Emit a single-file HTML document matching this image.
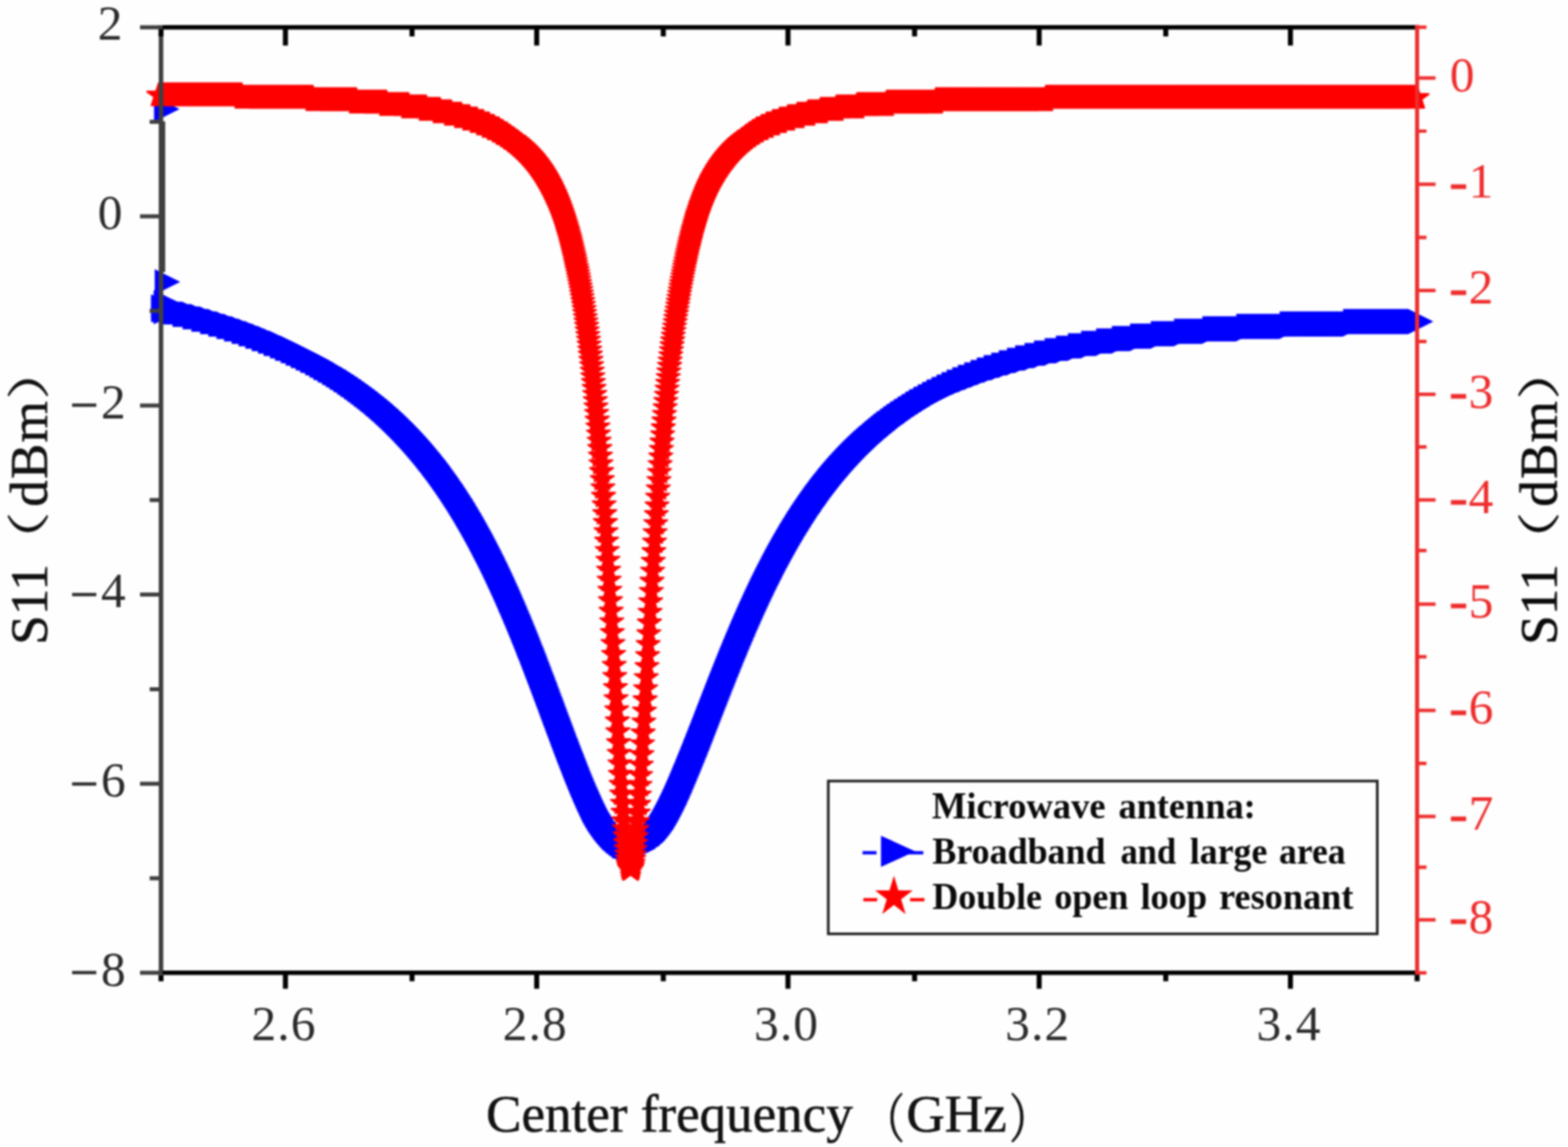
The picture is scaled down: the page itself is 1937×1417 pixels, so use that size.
<!DOCTYPE html>
<html lang="en">
<head>
<meta charset="utf-8">
<title>S11 versus center frequency</title>
<style>
html,body{margin:0;padding:0;background:#fff;}
body{width:1937px;height:1417px;overflow:hidden;}
svg{display:block;}
text{font-family:"Liberation Serif","Noto Serif CJK SC",serif;}
.cjk{font-family:"Noto Serif CJK SC","Liberation Serif",serif;}
</style>
</head>
<body>
<svg width="1937" height="1417" viewBox="0 0 1937 1417">
<defs>
<marker id="mt" markerUnits="userSpaceOnUse" markerWidth="60" markerHeight="60" viewBox="-30 -30 60 60" refX="0" refY="0"><polygon points="-11.50,-15.70 20.00,0.00 -11.50,15.70" fill="#0000ff" stroke="#0000ff" stroke-width="0" stroke-linejoin="round"/></marker>
<marker id="ms" markerUnits="userSpaceOnUse" markerWidth="60" markerHeight="60" viewBox="-30 -30 60 60" refX="0" refY="0"><polygon points="0.00,-15.20 3.41,-4.70 14.46,-4.70 5.52,1.79 8.93,12.30 0.00,5.81 -8.93,12.30 -5.52,1.79 -14.46,-4.70 -3.41,-4.70" fill="#ff0000" stroke="#ff0000" stroke-width="2.0" stroke-linejoin="round"/></marker>
<filter id="soft" x="-2%" y="-2%" width="104%" height="104%" color-interpolation-filters="sRGB"><feGaussianBlur stdDeviation="1.0"/></filter>
</defs>
<rect x="0" y="0" width="1937" height="1417" fill="#fefefe"/>
<g id="plot" filter="url(#soft)">
<polyline id="blue" fill="none" stroke="none" marker-start="url(#mt)" marker-mid="url(#mt)" marker-end="url(#mt)" points="201.8,134.8 202.6,348.2 201.3,374 198.2,382.5 201.3,385 198.2,379.2 199,382.2 199.8,382.2 200.5,382.2 201.3,382.2 202.1,382.2 202.9,382.2 203.6,382.2 204.4,382.2 205.2,382.2 206,382.2 206.7,382.2 207.5,382.2 208.3,382.2 209.1,382.2 209.8,382.2 210.6,382.2 211.4,382.2 212.2,385.2 212.9,385.2 213.7,385.2 214.5,385.2 215.3,385.2 216.1,385.2 216.8,385.2 217.6,385.2 218.4,385.2 219.2,385.2 219.9,385.2 220.7,385.2 221.5,385.2 222.3,385.2 223,385.2 223.8,385.2 224.6,388.2 225.4,388.2 226.1,388.2 226.9,388.2 227.7,388.2 228.5,388.2 229.2,388.2 230,388.2 230.8,388.2 231.6,388.2 232.4,388.2 233.1,388.2 233.9,388.2 234.7,388.2 235.5,388.2 236.2,388.2 237,391.2 237.8,391.2 238.6,391.2 239.3,391.2 240.1,391.2 240.9,391.2 241.7,391.2 242.4,391.2 243.2,391.2 244,391.2 244.8,391.2 245.5,391.2 246.3,391.2 247.1,391.2 247.9,394.2 248.7,394.2 249.4,394.2 250.2,394.2 251,394.2 251.8,394.2 252.5,394.2 253.3,394.2 254.1,394.2 254.9,394.2 255.6,394.2 256.4,394.2 257.2,394.2 258,394.2 258.7,397.2 259.5,397.2 260.3,397.2 261.1,397.2 261.8,397.2 262.6,397.2 263.4,397.2 264.2,397.2 265,397.2 265.7,397.2 266.5,397.2 267.3,397.2 268.1,397.2 268.8,400.2 269.6,400.2 270.4,400.2 271.2,400.2 271.9,400.2 272.7,400.2 273.5,400.2 274.3,400.2 275,400.2 275.8,400.2 276.6,400.2 277.4,400.2 278.1,400.2 278.9,403.2 279.7,403.2 280.5,403.2 281.3,403.2 282,403.2 282.8,403.2 283.6,403.2 284.4,403.2 285.1,403.2 285.9,403.2 286.7,403.2 287.5,403.2 288.2,406.2 289,406.2 289.8,406.2 290.6,406.2 291.3,406.2 292.1,406.2 292.9,406.2 293.7,406.2 294.4,406.2 295.2,406.2 296,406.2 296.8,406.2 297.6,409.2 298.3,409.2 299.1,409.2 299.9,409.2 300.7,409.2 301.4,409.2 302.2,409.2 303,409.2 303.8,409.2 304.5,409.2 305.3,409.2 306.1,412.2 306.9,412.2 307.6,412.2 308.4,412.2 309.2,412.2 310,412.2 310.7,412.2 311.5,412.2 312.3,412.2 313.1,412.2 313.9,412.2 314.6,415.2 315.4,415.2 316.2,415.2 317,415.2 317.7,415.2 318.5,415.2 319.3,415.2 320.1,415.2 320.8,415.2 321.6,415.2 322.4,418.2 323.2,418.2 323.9,418.2 324.7,418.2 325.5,418.2 326.3,418.2 327,418.2 327.8,418.2 328.6,418.2 329.4,418.2 330.2,421.2 330.9,421.2 331.7,421.2 332.5,421.2 333.3,421.2 334,421.2 334.8,421.2 335.6,421.2 336.4,421.2 337.1,424.2 337.9,424.2 338.7,424.2 339.5,424.2 340.2,424.2 341,424.2 341.8,424.2 342.6,424.2 343.3,424.3 344.1,424.3 344.9,427.1 345.7,427.2 346.5,427.2 347.2,427.2 348,427.2 348.8,427.2 349.6,427.3 350.3,427.3 351.1,430.1 351.9,430.1 352.7,430.1 353.4,430.2 354.2,430.2 355,430.2 355.8,430.3 356.5,430.3 357.3,430.3 358.1,433.1 358.9,433.1 359.6,433.1 360.4,433.2 361.2,433.2 362,433.3 362.8,433.3 363.5,433.4 364.3,436 365.1,436.1 365.9,436.1 366.6,436.2 367.4,436.2 368.2,436.3 369,436.3 369.7,436.4 370.5,439 371.3,439 372.1,439.1 372.8,439.2 373.6,439.2 374.4,439.3 375.2,439.4 375.9,439.4 376.7,442 377.5,442 378.3,442.1 379.1,442.2 379.8,442.3 380.6,442.3 381.4,442.4 382.2,444.9 382.9,445 383.7,445.1 384.5,445.1 385.3,445.2 386,445.3 386.8,445.4 387.6,445.5 388.4,447.9 389.1,448 389.9,448.1 390.7,448.2 391.5,448.3 392.2,448.5 393,448.6 393.8,450.9 394.6,451 395.4,451.1 396.1,451.2 396.9,451.4 397.7,451.5 398.5,453.8 399.2,453.9 400,454 400.8,454.2 401.6,454.3 402.3,454.4 403.1,454.6 403.9,456.8 404.7,456.9 405.4,457.1 406.2,457.2 407,457.4 407.8,457.5 408.6,457.7 409.3,459.8 410.1,460 410.9,460.2 411.7,460.3 412.4,460.5 413.2,460.7 414,462.8 414.8,462.9 415.5,463.1 416.3,463.3 417.1,463.5 417.9,463.7 418.6,465.7 419.4,465.9 420.2,466.1 421,466.3 421.7,466.6 422.5,466.8 423.3,468.7 424.1,468.9 424.9,469.2 425.6,469.4 426.4,469.6 427.2,469.9 428,471.7 428.7,472 429.5,472.2 430.3,472.5 431.1,472.8 431.8,474.5 432.6,474.8 433.4,475.1 434.2,475.4 434.9,475.7 435.7,475.9 436.5,477.7 437.3,478 438,478.3 438.8,478.6 439.6,478.9 440.4,480.5 441.2,480.8 441.9,481.2 442.7,481.5 443.5,481.8 444.3,483.4 445,483.8 445.8,484.1 446.6,484.5 447.4,484.8 448.1,486.4 448.9,486.7 449.7,487.1 450.5,487.5 451.2,487.9 452,489.3 452.8,489.7 453.6,490.1 454.3,490.5 455.1,491 455.9,492.4 456.7,492.8 457.5,493.2 458.2,493.7 459,494.1 459.8,495.4 460.6,495.9 461.3,496.4 462.1,496.8 462.9,498.1 463.7,498.6 464.4,499.1 465.2,499.6 466,500.1 466.8,501.3 467.5,501.8 468.3,502.4 469.1,502.9 469.9,504 470.6,504.6 471.4,505.1 472.2,505.7 473,506.3 473.8,507.4 474.5,508 475.3,508.6 476.1,509.2 476.9,510.2 477.6,510.8 478.4,511.5 479.2,512.1 480,513.1 480.7,513.7 481.5,514.4 482.3,515.1 483.1,516 483.8,516.7 484.6,517.4 485.4,518.1 486.2,518.9 486.9,519.7 487.7,520.4 488.5,521.2 489.3,522 490.1,522.7 490.8,523.5 491.6,524.3 492.4,525.1 493.2,525.9 493.9,526.7 494.7,527.5 495.5,528.3 496.3,529.1 497,529.9 497.8,530.7 498.6,531.5 499.4,532.3 500.1,533.2 500.9,534 501.7,534.8 502.5,535.7 503.2,536.5 504,537.3 504.8,538.2 505.6,539 506.4,539.9 507.1,540.8 507.9,541.6 508.7,542.5 509.5,543.4 510.2,544.3 511,545.1 511.8,546 512.6,546.9 513.3,547.8 514.1,548.7 514.9,549.6 515.7,550.5 516.4,551.4 517.2,552.3 518,553.3 518.8,554.2 519.5,555.1 520.3,556.1 521.1,557 521.9,557.9 522.7,558.9 523.4,559.8 524.2,560.8 525,561.8 525.8,562.7 526.5,563.7 527.3,564.7 528.1,565.7 528.9,566.7 529.6,567.6 530.4,568.6 531.2,569.6 532,570.6 532.7,571.7 533.5,572.7 534.3,573.7 535.1,574.7 535.8,575.8 536.6,576.8 537.4,577.8 538.2,578.9 539,579.9 539.7,581 540.5,582.1 541.3,583.1 542.1,584.2 542.8,585.3 543.6,586.4 544.4,587.5 545.2,588.6 545.9,589.7 546.7,590.8 547.5,591.9 548.3,593 549,594.1 549.8,595.2 550.6,596.4 551.4,597.5 552.1,598.7 552.9,599.8 553.7,601 554.5,602.1 555.3,603.3 556,604.5 556.8,605.7 557.6,606.9 558.4,608 559.1,609.2 559.9,610.5 560.7,611.7 561.5,612.9 562.2,614.1 563,615.3 563.8,616.6 564.6,617.8 565.3,619 566.1,620.3 566.9,621.6 567.7,622.8 568.4,624.1 569.2,625.4 570,626.7 570.8,627.9 571.6,629.2 572.3,630.5 573.1,631.9 573.9,633.2 574.7,634.5 575.4,635.8 576.2,637.2 577,638.5 577.8,639.8 578.5,641.2 579.3,642.6 580.1,643.9 580.9,645.3 581.6,646.7 582.4,648.1 583.2,649.5 584,650.9 584.7,652.3 585.5,653.7 586.3,655.1 587.1,656.5 587.9,658 588.6,659.4 589.4,660.8 590.2,662.3 591,663.8 591.7,665.2 592.5,666.7 593.3,668.2 594.1,669.7 594.8,671.2 595.6,672.7 596.4,674.2 597.2,675.7 597.9,677.2 598.7,678.7 599.5,680.3 600.3,681.8 601,683.4 601.8,684.9 602.6,686.5 603.4,688 604.2,689.6 604.9,691.2 605.7,692.8 606.5,694.4 607.3,696 608,697.6 608.8,699.2 609.6,700.9 610.4,702.5 611.1,704.1 611.9,705.8 612.7,707.4 613.5,709.1 614.2,710.8 615,712.4 615.8,714.1 616.6,715.8 617.3,717.5 618.1,719.2 618.9,720.9 619.7,722.6 620.5,724.4 621.2,726.1 622,727.8 622.8,729.6 623.6,731.3 624.3,733.1 625.1,734.8 625.9,736.6 626.7,738.4 627.4,740.2 628.2,742 629,743.8 629.8,745.6 630.5,747.4 631.3,749.2 632.1,751 632.9,752.9 633.6,754.7 634.4,756.5 635.2,758.4 636,760.2 636.8,762.1 637.5,764 638.3,765.9 639.1,767.7 639.9,769.6 640.6,771.5 641.4,773.4 642.2,775.3 643,777.2 643.7,779.2 644.5,781.1 645.3,783 646.1,785 646.8,786.9 647.6,788.8 648.4,790.8 649.2,792.8 649.9,794.7 650.7,796.7 651.5,798.7 652.3,800.6 653.1,802.6 653.8,804.6 654.6,806.6 655.4,808.6 656.2,810.6 656.9,812.6 657.7,814.6 658.5,816.7 659.3,818.7 660,820.7 660.8,822.7 661.6,824.8 662.4,826.8 663.1,828.9 663.9,830.9 664.7,832.9 665.5,835 666.2,837.1 667,839.1 667.8,841.2 668.6,843.2 669.4,845.3 670.1,847.4 670.9,849.5 671.7,851.5 672.5,853.6 673.2,855.7 674,857.8 674.8,859.9 675.6,861.9 676.3,864 677.1,866.1 677.9,868.2 678.7,870.3 679.4,872.4 680.2,874.5 681,876.6 681.8,878.7 682.5,880.7 683.3,882.8 684.1,884.9 684.9,887 685.7,889.1 686.4,891.2 687.2,893.3 688,895.4 688.8,897.4 689.5,899.5 690.3,901.6 691.1,903.7 691.9,905.8 692.6,907.8 693.4,909.9 694.2,912 695,914 695.7,916.1 696.5,918.1 697.3,920.2 698.1,922.2 698.8,924.2 699.6,926.3 700.4,928.3 701.2,930.3 702,932.3 702.7,934.3 703.5,936.3 704.3,938.3 705.1,940.3 705.8,942.3 706.6,944.3 707.4,946.2 708.2,948.2 708.9,950.1 709.7,952.1 710.5,954 711.3,955.9 712,957.8 712.8,959.7 713.6,961.6 714.4,963.5 715.1,965.4 715.9,967.2 716.7,969.1 717.5,970.9 718.3,972.7 719,974.5 719.8,976.3 720.6,978.1 721.4,979.8 722.1,981.6 722.9,983.3 723.7,985 724.5,986.7 725.2,988.4 726,990.1 726.8,991.7 727.6,993.4 728.3,995 729.1,996.6 729.9,998.2 730.7,999.7 731.4,1001.2 732.2,1002.7 733,1004.1 733.8,1005.5 734.6,1006.8 735.3,1008.1 736.1,1009.4 736.9,1010.7 737.7,1011.9 738.4,1013.1 739.2,1014.2 740,1015.4 740.8,1016.5 741.5,1017.6 742.3,1018.6 743.1,1019.7 743.9,1020.7 744.6,1021.7 745.4,1022.7 746.2,1023.7 747,1024.7 747.7,1025.7 748.5,1026.6 749.3,1027.6 750.1,1028.5 750.9,1029.4 751.6,1030.3 752.4,1031.1 753.2,1032 754,1032.8 754.7,1033.5 755.5,1034.2 756.3,1035.2 757.1,1035.8 757.8,1036.4 758.6,1036.9 759.4,1038.1 760.2,1038.7 760.9,1039.1 761.7,1039.5 762.5,1039.9 763.3,1041.4 764,1041.8 764.8,1042.1 765.6,1042.4 766.4,1042.7 767.2,1044.5 767.9,1044.8 768.7,1045 769.5,1045.2 770.3,1045.4 771,1045.4 771.8,1045.5 772.6,1048 773.4,1048.1 774.1,1048.2 774.9,1048.2 775.7,1048.2 776.5,1048.2 777.2,1048.2 778,1048.2 778.8,1048.2 779.6,1048.2 780.3,1048.2 781.1,1048.2 781.9,1048.2 782.7,1048.2 783.5,1048.2 784.2,1048.2 785,1048.2 785.8,1048.2 786.6,1048.2 787.3,1048.2 788.1,1048.2 788.9,1048.2 789.7,1048.1 790.4,1048 791.2,1045.5 792,1045.4 792.8,1045.3 793.5,1045.1 794.3,1044.8 795.1,1044.5 795.9,1042.9 796.7,1042.5 797.4,1042.1 798.2,1041.5 799,1040.5 799.8,1039.9 800.5,1039.2 801.3,1038.4 802.1,1037.6 802.9,1036.7 803.6,1035.8 804.4,1034.9 805.2,1034 806,1033 806.7,1032 807.5,1031 808.3,1030 809.1,1028.9 809.8,1027.8 810.6,1026.7 811.4,1025.5 812.2,1024.4 813,1023.2 813.7,1021.9 814.5,1020.7 815.3,1019.4 816.1,1018.1 816.8,1016.8 817.6,1015.4 818.4,1014 819.2,1012.6 819.9,1011.2 820.7,1009.8 821.5,1008.3 822.3,1006.8 823,1005.3 823.8,1003.8 824.6,1002.2 825.4,1000.6 826.1,999 826.9,997.4 827.7,995.8 828.5,994.2 829.3,992.5 830,990.8 830.8,989.1 831.6,987.4 832.4,985.7 833.1,984 833.9,982.2 834.7,980.4 835.5,978.7 836.2,976.9 837,975.1 837.8,973.3 838.6,971.4 839.3,969.6 840.1,967.8 840.9,965.9 841.7,964.1 842.4,962.2 843.2,960.3 844,958.5 844.8,956.6 845.6,954.7 846.3,952.8 847.1,950.9 847.9,949 848.7,947.1 849.4,945.2 850.2,943.3 851,941.4 851.8,939.5 852.5,937.5 853.3,935.6 854.1,933.7 854.9,931.7 855.6,929.8 856.4,927.8 857.2,925.9 858,923.9 858.7,921.9 859.5,920 860.3,918 861.1,916 861.9,914 862.6,912.1 863.4,910.1 864.2,908.1 865,906.1 865.7,904.1 866.5,902.1 867.3,900.1 868.1,898.1 868.8,896.1 869.6,894.1 870.4,892.1 871.2,890.1 871.9,888.1 872.7,886.1 873.5,884.1 874.3,882.1 875,880.1 875.8,878.1 876.6,876.1 877.4,874.1 878.2,872.1 878.9,870.2 879.7,868.2 880.5,866.2 881.3,864.2 882,862.2 882.8,860.2 883.6,858.2 884.4,856.2 885.1,854.3 885.9,852.3 886.7,850.3 887.5,848.4 888.2,846.4 889,844.4 889.8,842.5 890.6,840.5 891.3,838.6 892.1,836.6 892.9,834.7 893.7,832.7 894.5,830.8 895.2,828.9 896,826.9 896.8,825 897.6,823.1 898.3,821.2 899.1,819.3 899.9,817.3 900.7,815.4 901.4,813.6 902.2,811.7 903,809.8 903.8,807.9 904.5,806 905.3,804.1 906.1,802.3 906.9,800.4 907.6,798.6 908.4,796.7 909.2,794.9 910,793 910.8,791.2 911.5,789.4 912.3,787.5 913.1,785.7 913.9,783.9 914.6,782.1 915.4,780.3 916.2,778.5 917,776.7 917.7,775 918.5,773.2 919.3,771.4 920.1,769.7 920.8,767.9 921.6,766.2 922.4,764.4 923.2,762.7 923.9,761 924.7,759.2 925.5,757.5 926.3,755.8 927.1,754.1 927.8,752.4 928.6,750.7 929.4,749 930.2,747.4 930.9,745.7 931.7,744 932.5,742.4 933.3,740.7 934,739.1 934.8,737.4 935.6,735.8 936.4,734.2 937.1,732.6 937.9,731 938.7,729.3 939.5,727.8 940.2,726.2 941,724.6 941.8,723 942.6,721.4 943.4,719.9 944.1,718.3 944.9,716.8 945.7,715.2 946.5,713.7 947.2,712.2 948,710.6 948.8,709.1 949.6,707.6 950.3,706.1 951.1,704.6 951.9,703.1 952.7,701.6 953.4,700.2 954.2,698.7 955,697.2 955.8,695.8 956.5,694.3 957.3,692.9 958.1,691.5 958.9,690 959.7,688.6 960.4,687.2 961.2,685.8 962,684.4 962.8,683 963.5,681.6 964.3,680.2 965.1,678.8 965.9,677.5 966.6,676.1 967.4,674.7 968.2,673.4 969,672.1 969.7,670.7 970.5,669.4 971.3,668.1 972.1,666.7 972.8,665.4 973.6,664.1 974.4,662.8 975.2,661.5 976,660.2 976.7,659 977.5,657.7 978.3,656.4 979.1,655.2 979.8,653.9 980.6,652.7 981.4,651.4 982.2,650.2 982.9,649 983.7,647.7 984.5,646.5 985.3,645.3 986,644.1 986.8,642.9 987.6,641.7 988.4,640.5 989.1,639.3 989.9,638.1 990.7,637 991.5,635.8 992.3,634.7 993,633.5 993.8,632.4 994.6,631.2 995.4,630.1 996.1,628.9 996.9,627.8 997.7,626.7 998.5,625.6 999.2,624.5 1000,623.4 1000.8,622.3 1001.6,621.2 1002.3,620.1 1003.1,619 1003.9,618 1004.7,616.9 1005.4,615.8 1006.2,614.8 1007,613.7 1007.8,612.7 1008.6,611.6 1009.3,610.6 1010.1,609.6 1010.9,608.5 1011.7,607.5 1012.4,606.5 1013.2,605.5 1014,604.5 1014.8,603.5 1015.5,602.5 1016.3,601.5 1017.1,600.5 1017.9,599.6 1018.6,598.6 1019.4,597.6 1020.2,596.7 1021,595.7 1021.7,594.8 1022.5,593.8 1023.3,592.9 1024.1,591.9 1024.9,591 1025.6,590.1 1026.4,589.2 1027.2,588.2 1028,587.3 1028.7,586.4 1029.5,585.5 1030.3,584.6 1031.1,583.7 1031.8,582.8 1032.6,582 1033.4,581.1 1034.2,580.2 1034.9,579.3 1035.7,578.5 1036.5,577.6 1037.3,576.7 1038,575.9 1038.8,575 1039.6,574.2 1040.4,573.4 1041.2,572.5 1041.9,571.7 1042.7,570.9 1043.5,570 1044.3,569.2 1045,568.4 1045.8,567.6 1046.6,566.8 1047.4,566 1048.1,565.2 1048.9,564.4 1049.7,563.6 1050.5,562.8 1051.2,562.1 1052,561.3 1052.8,560.5 1053.6,559.7 1054.3,559 1055.1,558.2 1055.9,557.4 1056.7,556.7 1057.5,556 1058.2,555.3 1059,554.4 1059.8,553.7 1060.6,553 1061.3,552.4 1062.1,551.4 1062.9,550.7 1063.7,550.1 1064.4,549.5 1065.2,548.5 1066,547.8 1066.8,547.2 1067.5,546.7 1068.3,546.1 1069.1,545 1069.9,544.4 1070.6,543.9 1071.4,543.3 1072.2,542.2 1073,541.6 1073.8,541.1 1074.5,540.6 1075.3,540.1 1076.1,538.9 1076.9,538.4 1077.6,537.9 1078.4,537.4 1079.2,536.1 1080,535.6 1080.7,535.2 1081.5,534.7 1082.3,534.3 1083.1,532.9 1083.8,532.5 1084.6,532.1 1085.4,531.6 1086.2,531.2 1086.9,529.8 1087.7,529.4 1088.5,529 1089.3,528.6 1090.1,527.1 1090.8,526.7 1091.6,526.4 1092.4,526 1093.2,525.6 1093.9,524.1 1094.7,523.7 1095.5,523.4 1096.3,523 1097,522.7 1097.8,522.4 1098.6,520.8 1099.4,520.4 1100.1,520.1 1100.9,519.8 1101.7,519.5 1102.5,517.8 1103.2,517.5 1104,517.2 1104.8,517 1105.6,516.7 1106.4,514.9 1107.1,514.6 1107.9,514.4 1108.7,514.1 1109.5,513.8 1110.2,513.6 1111,511.8 1111.8,511.5 1112.6,511.3 1113.3,511 1114.1,510.8 1114.9,510.6 1115.7,508.7 1116.4,508.4 1117.2,508.2 1118,508 1118.8,507.8 1119.5,507.6 1120.3,505.6 1121.1,505.4 1121.9,505.2 1122.7,505 1123.4,504.8 1124.2,504.6 1125,502.6 1125.8,502.4 1126.5,502.2 1127.3,502.1 1128.1,501.9 1128.9,501.7 1129.6,499.6 1130.4,499.4 1131.2,499.3 1132,499.1 1132.7,499 1133.5,498.8 1134.3,496.6 1135.1,496.5 1135.8,496.4 1136.6,496.2 1137.4,496.1 1138.2,495.9 1139,495.8 1139.7,493.6 1140.5,493.4 1141.3,493.3 1142.1,493.2 1142.8,493.1 1143.6,492.9 1144.4,492.8 1145.2,490.5 1145.9,490.4 1146.7,490.3 1147.5,490.2 1148.3,490.1 1149,490 1149.8,489.9 1150.6,487.5 1151.4,487.4 1152.1,487.3 1152.9,487.2 1153.7,487.1 1154.5,487 1155.3,487 1156,484.5 1156.8,484.4 1157.6,484.3 1158.4,484.2 1159.1,484.2 1159.9,484.1 1160.7,484 1161.5,484 1162.2,481.4 1163,481.3 1163.8,481.3 1164.6,481.2 1165.3,481.1 1166.1,481.1 1166.9,481 1167.7,481 1168.4,478.4 1169.2,478.3 1170,478.3 1170.8,478.2 1171.6,478.2 1172.3,478.1 1173.1,478.1 1173.9,478 1174.7,475.3 1175.4,475.3 1176.2,475.3 1177,475.2 1177.8,475.2 1178.5,475.1 1179.3,475.1 1180.1,475.1 1180.9,472.3 1181.6,472.3 1182.4,472.3 1183.2,472.2 1184,472.2 1184.8,472.2 1185.5,472.2 1186.3,472.1 1187.1,472.1 1187.9,469.3 1188.6,469.2 1189.4,469.2 1190.2,469.2 1191,469.2 1191.7,469.2 1192.5,469.2 1193.3,469.2 1194.1,469.2 1194.8,466.2 1195.6,466.2 1196.4,466.2 1197.2,466.2 1197.9,466.2 1198.7,466.2 1199.5,466.2 1200.3,466.2 1201.1,466.2 1201.8,466.2 1202.6,463.2 1203.4,463.2 1204.2,463.2 1204.9,463.2 1205.7,463.2 1206.5,463.2 1207.3,463.2 1208,463.2 1208.8,463.2 1209.6,463.2 1210.4,460.2 1211.1,460.2 1211.9,460.2 1212.7,460.2 1213.5,460.2 1214.2,460.2 1215,460.2 1215.8,460.2 1216.6,460.2 1217.4,460.2 1218.1,457.2 1218.9,457.2 1219.7,457.2 1220.5,457.2 1221.2,457.2 1222,457.2 1222.8,457.2 1223.6,457.2 1224.3,457.2 1225.1,457.2 1225.9,457.2 1226.7,454.2 1227.4,454.2 1228.2,454.2 1229,454.2 1229.8,454.2 1230.5,454.2 1231.3,454.2 1232.1,454.2 1232.9,454.2 1233.7,454.2 1234.4,454.2 1235.2,454.2 1236,451.2 1236.8,451.2 1237.5,451.2 1238.3,451.2 1239.1,451.2 1239.9,451.2 1240.6,451.2 1241.4,451.2 1242.2,451.2 1243,451.2 1243.7,451.2 1244.5,451.2 1245.3,448.2 1246.1,448.2 1246.8,448.2 1247.6,448.2 1248.4,448.2 1249.2,448.2 1250,448.2 1250.7,448.2 1251.5,448.2 1252.3,448.2 1253.1,448.2 1253.8,448.2 1254.6,448.2 1255.4,445.2 1256.2,445.2 1256.9,445.2 1257.7,445.2 1258.5,445.2 1259.3,445.2 1260,445.2 1260.8,445.2 1261.6,445.2 1262.4,445.2 1263.1,445.2 1263.9,445.2 1264.7,445.2 1265.5,442.2 1266.3,442.2 1267,442.2 1267.8,442.2 1268.6,442.2 1269.4,442.2 1270.1,442.2 1270.9,442.2 1271.7,442.2 1272.5,442.2 1273.2,442.2 1274,442.2 1274.8,442.2 1275.6,442.2 1276.3,442.2 1277.1,439.2 1277.9,439.2 1278.7,439.2 1279.4,439.2 1280.2,439.2 1281,439.2 1281.8,439.2 1282.6,439.2 1283.3,439.2 1284.1,439.2 1284.9,439.2 1285.7,439.2 1286.4,439.2 1287.2,439.2 1288,439.2 1288.8,436.2 1289.5,436.2 1290.3,436.2 1291.1,436.2 1291.9,436.2 1292.6,436.2 1293.4,436.2 1294.2,436.2 1295,436.2 1295.7,436.2 1296.5,436.2 1297.3,436.2 1298.1,436.2 1298.9,436.2 1299.6,436.2 1300.4,436.2 1301.2,436.2 1302,433.2 1302.7,433.2 1303.5,433.2 1304.3,433.2 1305.1,433.2 1305.8,433.2 1306.6,433.2 1307.4,433.2 1308.2,433.2 1308.9,433.2 1309.7,433.2 1310.5,433.2 1311.3,433.2 1312,433.2 1312.8,433.2 1313.6,433.2 1314.4,433.2 1315.2,433.2 1315.9,430.2 1316.7,430.2 1317.5,430.2 1318.3,430.2 1319,430.2 1319.8,430.2 1320.6,430.2 1321.4,430.2 1322.1,430.2 1322.9,430.2 1323.7,430.2 1324.5,430.2 1325.2,430.2 1326,430.2 1326.8,430.2 1327.6,430.2 1328.3,430.2 1329.1,430.2 1329.9,430.2 1330.7,427.2 1331.5,427.2 1332.2,427.2 1333,427.2 1333.8,427.2 1334.6,427.2 1335.3,427.2 1336.1,427.2 1336.9,427.2 1337.7,427.2 1338.4,427.2 1339.2,427.2 1340,427.2 1340.8,427.2 1341.5,427.2 1342.3,427.2 1343.1,427.2 1343.9,427.2 1344.6,427.2 1345.4,427.2 1346.2,427.2 1347,424.2 1347.8,424.2 1348.5,424.2 1349.3,424.2 1350.1,424.2 1350.9,424.2 1351.6,424.2 1352.4,424.2 1353.2,424.2 1354,424.2 1354.7,424.2 1355.5,424.2 1356.3,424.2 1357.1,424.2 1357.8,424.2 1358.6,424.2 1359.4,424.2 1360.2,424.2 1360.9,424.2 1361.7,424.2 1362.5,424.2 1363.3,424.2 1364.1,424.2 1364.8,424.2 1365.6,421.2 1366.4,421.2 1367.2,421.2 1367.9,421.2 1368.7,421.2 1369.5,421.2 1370.3,421.2 1371,421.2 1371.8,421.2 1372.6,421.2 1373.4,421.2 1374.1,421.2 1374.9,421.2 1375.7,421.2 1376.5,421.2 1377.2,421.2 1378,421.2 1378.8,421.2 1379.6,421.2 1380.4,421.2 1381.1,421.2 1381.9,421.2 1382.7,421.2 1383.5,421.2 1384.2,421.2 1385,418.2 1385.8,418.2 1386.6,418.2 1387.3,418.2 1388.1,418.2 1388.9,418.2 1389.7,418.2 1390.4,418.2 1391.2,418.2 1392,418.2 1392.8,418.2 1393.5,418.2 1394.3,418.2 1395.1,418.2 1395.9,418.2 1396.7,418.2 1397.4,418.2 1398.2,418.2 1399,418.2 1399.8,418.2 1400.5,418.2 1401.3,418.2 1402.1,418.2 1402.9,418.2 1403.6,418.2 1404.4,418.2 1405.2,418.2 1406,418.2 1406.7,418.2 1407.5,415.2 1408.3,415.2 1409.1,415.2 1409.8,415.2 1410.6,415.2 1411.4,415.2 1412.2,415.2 1413,415.2 1413.7,415.2 1414.5,415.2 1415.3,415.2 1416.1,415.2 1416.8,415.2 1417.6,415.2 1418.4,415.2 1419.2,415.2 1419.9,415.2 1420.7,415.2 1421.5,415.2 1422.3,415.2 1423,415.2 1423.8,415.2 1424.6,415.2 1425.4,415.2 1426.1,415.2 1426.9,415.2 1427.7,415.2 1428.5,415.2 1429.3,415.2 1430,415.2 1430.8,415.2 1431.6,415.2 1432.4,415.2 1433.1,412.2 1433.9,412.2 1434.7,412.2 1435.5,412.2 1436.2,412.2 1437,412.2 1437.8,412.2 1438.6,412.2 1439.3,412.2 1440.1,412.2 1440.9,412.2 1441.7,412.2 1442.4,412.2 1443.2,412.2 1444,412.2 1444.8,412.2 1445.6,412.2 1446.3,412.2 1447.1,412.2 1447.9,412.2 1448.7,412.2 1449.4,412.2 1450.2,412.2 1451,412.2 1451.8,412.2 1452.5,412.2 1453.3,412.2 1454.1,412.2 1454.9,412.2 1455.6,412.2 1456.4,412.2 1457.2,412.2 1458,412.2 1458.7,412.2 1459.5,412.2 1460.3,412.2 1461.1,412.2 1461.9,409.2 1462.6,409.2 1463.4,409.2 1464.2,409.2 1465,409.2 1465.7,409.2 1466.5,409.2 1467.3,409.2 1468.1,409.2 1468.8,409.2 1469.6,409.2 1470.4,409.2 1471.2,409.2 1471.9,409.2 1472.7,409.2 1473.5,409.2 1474.3,409.2 1475,409.2 1475.8,409.2 1476.6,409.2 1477.4,409.2 1478.2,409.2 1478.9,409.2 1479.7,409.2 1480.5,409.2 1481.3,409.2 1482,409.2 1482.8,409.2 1483.6,409.2 1484.4,409.2 1485.1,409.2 1485.9,409.2 1486.7,409.2 1487.5,409.2 1488.2,409.2 1489,409.2 1489.8,409.2 1490.6,409.2 1491.3,409.2 1492.1,409.2 1492.9,409.2 1493.7,409.2 1494.5,409.2 1495.2,409.2 1496,409.2 1496.8,406.2 1497.6,406.2 1498.3,406.2 1499.1,406.2 1499.9,406.2 1500.7,406.2 1501.4,406.2 1502.2,406.2 1503,406.2 1503.8,406.2 1504.5,406.2 1505.3,406.2 1506.1,406.2 1506.9,406.2 1507.6,406.2 1508.4,406.2 1509.2,406.2 1510,406.2 1510.8,406.2 1511.5,406.2 1512.3,406.2 1513.1,406.2 1513.9,406.2 1514.6,406.2 1515.4,406.2 1516.2,406.2 1517,406.2 1517.7,406.2 1518.5,406.2 1519.3,406.2 1520.1,406.2 1520.8,406.2 1521.6,406.2 1522.4,406.2 1523.2,406.2 1523.9,406.2 1524.7,406.2 1525.5,406.2 1526.3,406.2 1527.1,406.2 1527.8,406.2 1528.6,406.2 1529.4,406.2 1530.2,406.2 1530.9,406.2 1531.7,406.2 1532.5,406.2 1533.3,406.2 1534,406.2 1534.8,406.2 1535.6,406.2 1536.4,406.2 1537.1,406.2 1537.9,406.2 1538.7,403.2 1539.5,403.2 1540.2,403.2 1541,403.2 1541.8,403.2 1542.6,403.2 1543.4,403.2 1544.1,403.2 1544.9,403.2 1545.7,403.2 1546.5,403.2 1547.2,403.2 1548,403.2 1548.8,403.2 1549.6,403.2 1550.3,403.2 1551.1,403.2 1551.9,403.2 1552.7,403.2 1553.4,403.2 1554.2,403.2 1555,403.2 1555.8,403.2 1556.6,403.2 1557.3,403.2 1558.1,403.2 1558.9,403.2 1559.7,403.2 1560.4,403.2 1561.2,403.2 1562,403.2 1562.8,403.2 1563.5,403.2 1564.3,403.2 1565.1,403.2 1565.9,403.2 1566.6,403.2 1567.4,403.2 1568.2,403.2 1569,403.2 1569.7,403.2 1570.5,403.2 1571.3,403.2 1572.1,403.2 1572.9,403.2 1573.6,403.2 1574.4,403.2 1575.2,403.2 1576,403.2 1576.7,403.2 1577.5,403.2 1578.3,403.2 1579.1,403.2 1579.8,403.2 1580.6,403.2 1581.4,403.2 1582.2,403.2 1582.9,403.2 1583.7,403.2 1584.5,403.2 1585.3,403.2 1586,403.2 1586.8,403.2 1587.6,403.2 1588.4,403.2 1589.2,403.2 1589.9,403.2 1590.7,403.2 1591.5,403.2 1592.3,400.2 1593,400.2 1593.8,400.2 1594.6,400.2 1595.4,400.2 1596.1,400.2 1596.9,400.2 1597.7,400.2 1598.5,400.2 1599.2,400.2 1600,400.2 1600.8,400.2 1601.6,400.2 1602.3,400.2 1603.1,400.2 1603.9,400.2 1604.7,400.2 1605.5,400.2 1606.2,400.2 1607,400.2 1607.8,400.2 1608.6,400.2 1609.3,400.2 1610.1,400.2 1610.9,400.2 1611.7,400.2 1612.4,400.2 1613.2,400.2 1614,400.2 1614.8,400.2 1615.5,400.2 1616.3,400.2 1617.1,400.2 1617.9,400.2 1618.6,400.2 1619.4,400.2 1620.2,400.2 1621,400.2 1621.8,400.2 1622.5,400.2 1623.3,400.2 1624.1,400.2 1624.9,400.2 1625.6,400.2 1626.4,400.2 1627.2,400.2 1628,400.2 1628.7,400.2 1629.5,400.2 1630.3,400.2 1631.1,400.2 1631.8,400.2 1632.6,400.2 1633.4,400.2 1634.2,400.2 1634.9,400.2 1635.7,400.2 1636.5,400.2 1637.3,400.2 1638.1,400.2 1638.8,400.2 1639.6,400.2 1640.4,400.2 1641.2,400.2 1641.9,400.2 1642.7,400.2 1643.5,400.2 1644.3,400.2 1645,400.2 1645.8,400.2 1646.6,400.2 1647.4,400.2 1648.1,400.2 1648.9,400.2 1649.7,400.2 1650.5,400.2 1651.2,400.2 1652,400.2 1652.8,400.2 1653.6,400.2 1654.4,400.2 1655.1,400.2 1655.9,400.2 1656.7,400.2 1657.5,400.2 1658.2,400.2 1659,400.2 1659.8,400.2 1660.6,400.2 1661.3,400.2 1662.1,400.2 1662.9,400.2 1663.7,400.2 1664.4,400.2 1665.2,400.2 1666,400.2 1666.8,400.2 1667.5,400.2 1668.3,400.2 1669.1,400.2 1669.9,400.2 1670.7,397.2 1671.4,397.2 1672.2,397.2 1673,397.2 1673.8,397.2 1674.5,397.2 1675.3,397.2 1676.1,397.2 1676.9,397.2 1677.6,397.2 1678.4,397.2 1679.2,397.2 1680,397.2 1680.7,397.2 1681.5,397.2 1682.3,397.2 1683.1,397.2 1683.8,397.2 1684.6,397.2 1685.4,397.2 1686.2,397.2 1687,397.2 1687.7,397.2 1688.5,397.2 1689.3,397.2 1690.1,397.2 1690.8,397.2 1691.6,397.2 1692.4,397.2 1693.2,397.2 1693.9,397.2 1694.7,397.2 1695.5,397.2 1696.3,397.2 1697,397.2 1697.8,397.2 1698.6,397.2 1699.4,397.2 1700.1,397.2 1700.9,397.2 1701.7,397.2 1702.5,397.2 1703.3,397.2 1704,397.2 1704.8,397.2 1705.6,397.2 1706.4,397.2 1707.1,397.2 1707.9,397.2 1708.7,397.2 1709.5,397.2 1710.2,397.2 1711,397.2 1711.8,397.2 1712.6,397.2 1713.3,397.2 1714.1,397.2 1714.9,397.2 1715.7,397.2 1716.4,397.2 1717.2,397.2 1718,397.2 1718.8,397.2 1719.6,397.2 1720.3,397.2 1721.1,397.2 1721.9,397.2 1722.7,397.2 1723.4,397.2 1724.2,397.2 1725,397.2 1725.8,397.2 1726.5,397.2 1727.3,397.2 1728.1,397.2 1728.9,397.2 1729.6,397.2 1730.4,397.2 1731.2,397.2 1732,397.2 1732.7,397.2 1733.5,397.2 1734.3,397.2 1735.1,397.2 1735.9,397.2 1736.6,397.2 1737.4,397.2 1738.2,397.2 1739,397.2 1739.7,397.2 1740.5,397.2 1741.3,397.2 1742.1,397.2 1742.8,397.2 1743.6,397.2 1744.4,397.2 1745.2,397.2 1745.9,397.2 1746.7,397.2 1747.5,397.2 1748.3,397.2 1749,397.2 1749.8,397.2 1750.6,397.2"/>
<polyline id="red" fill="none" stroke="none" marker-start="url(#ms)" marker-mid="url(#ms)" marker-end="url(#ms)" points="196,117.9 196.8,117.9 197.6,117.9 198.3,117.9 199.1,117.9 199.9,117.9 200.7,117.9 201.4,117.9 202.2,117.9 203,117.9 203.8,117.9 204.6,117.9 205.3,117.9 206.1,117.9 206.9,117.9 207.7,117.9 208.4,117.9 209.2,117.9 210,117.9 210.8,117.9 211.5,117.9 212.3,117.9 213.1,117.9 213.9,117.9 214.7,117.9 215.4,117.9 216.2,117.9 217,117.9 217.8,117.9 218.5,117.9 219.3,117.9 220.1,117.9 220.9,117.9 221.7,117.9 222.4,117.9 223.2,117.9 224,117.9 224.8,117.9 225.5,117.9 226.3,117.9 227.1,117.9 227.9,117.9 228.6,117.9 229.4,117.9 230.2,117.9 231,117.9 231.8,117.9 232.5,117.9 233.3,117.9 234.1,117.9 234.9,117.9 235.6,117.9 236.4,117.9 237.2,117.9 238,117.9 238.8,117.9 239.5,117.9 240.3,117.9 241.1,117.9 241.9,117.9 242.6,117.9 243.4,117.9 244.2,117.9 245,117.9 245.7,117.9 246.5,117.9 247.3,117.9 248.1,117.9 248.9,117.9 249.6,117.9 250.4,117.9 251.2,117.9 252,117.9 252.7,117.9 253.5,117.9 254.3,117.9 255.1,117.9 255.9,117.9 256.6,117.9 257.4,117.9 258.2,117.9 259,117.9 259.7,117.9 260.5,117.9 261.3,117.9 262.1,117.9 262.8,117.9 263.6,117.9 264.4,117.9 265.2,117.9 266,117.9 266.7,117.9 267.5,117.9 268.3,117.9 269.1,117.9 269.8,117.9 270.6,117.9 271.4,117.9 272.2,117.9 273,117.9 273.7,117.9 274.5,117.9 275.3,117.9 276.1,117.9 276.8,117.9 277.6,117.9 278.4,117.9 279.2,117.9 279.9,117.9 280.7,117.9 281.5,117.9 282.3,117.9 283.1,117.9 283.8,117.9 284.6,117.9 285.4,117.9 286.2,117.9 286.9,117.9 287.7,117.9 288.5,117.9 289.3,117.9 290.1,117.9 290.8,117.9 291.6,117.9 292.4,117.9 293.2,117.9 293.9,117.9 294.7,117.9 295.5,117.9 296.3,117.9 297,117.9 297.8,117.9 298.6,117.9 299.4,120.9 300.2,120.9 300.9,120.9 301.7,120.9 302.5,120.9 303.3,120.9 304,120.9 304.8,120.9 305.6,120.9 306.4,120.9 307.2,120.9 307.9,120.9 308.7,120.9 309.5,120.9 310.3,120.9 311,120.9 311.8,120.9 312.6,120.9 313.4,120.9 314.1,120.9 314.9,120.9 315.7,120.9 316.5,120.9 317.3,120.9 318,120.9 318.8,120.9 319.6,120.9 320.4,120.9 321.1,120.9 321.9,120.9 322.7,120.9 323.5,120.9 324.3,120.9 325,120.9 325.8,120.9 326.6,120.9 327.4,120.9 328.1,120.9 328.9,120.9 329.7,120.9 330.5,120.9 331.3,120.9 332,120.9 332.8,120.9 333.6,120.9 334.4,120.9 335.1,120.9 335.9,120.9 336.7,120.9 337.5,120.9 338.2,120.9 339,120.9 339.8,120.9 340.6,120.9 341.4,120.9 342.1,120.9 342.9,120.9 343.7,120.9 344.5,120.9 345.2,120.9 346,120.9 346.8,120.9 347.6,120.9 348.4,120.9 349.1,120.9 349.9,120.9 350.7,120.9 351.5,120.9 352.2,120.9 353,120.9 353.8,120.9 354.6,120.9 355.3,120.9 356.1,120.9 356.9,120.9 357.7,120.9 358.5,120.9 359.2,120.9 360,120.9 360.8,120.9 361.6,120.9 362.3,120.9 363.1,120.9 363.9,120.9 364.7,120.9 365.5,120.9 366.2,120.9 367,120.9 367.8,120.9 368.6,120.9 369.3,120.9 370.1,120.9 370.9,120.9 371.7,120.9 372.4,120.9 373.2,120.9 374,120.9 374.8,120.9 375.6,120.9 376.3,120.9 377.1,120.9 377.9,120.9 378.7,120.9 379.4,120.9 380.2,120.9 381,120.9 381.8,120.9 382.6,120.9 383.3,120.9 384.1,120.9 384.9,120.9 385.7,120.9 386.4,120.9 387.2,123.9 388,123.9 388.8,123.9 389.5,123.9 390.3,123.9 391.1,123.9 391.9,123.9 392.7,123.9 393.4,123.9 394.2,123.9 395,123.9 395.8,123.9 396.5,123.9 397.3,123.9 398.1,123.9 398.9,123.9 399.7,123.9 400.4,123.9 401.2,123.9 402,123.9 402.8,123.9 403.5,123.9 404.3,123.9 405.1,123.9 405.9,123.9 406.6,123.9 407.4,123.9 408.2,123.9 409,123.9 409.8,123.9 410.5,123.9 411.3,123.9 412.1,123.9 412.9,123.9 413.6,123.9 414.4,123.9 415.2,123.9 416,123.9 416.8,123.9 417.5,123.9 418.3,123.9 419.1,123.9 419.9,123.9 420.6,123.9 421.4,123.9 422.2,123.9 423,123.9 423.7,123.9 424.5,123.9 425.3,123.9 426.1,123.9 426.9,123.9 427.6,123.9 428.4,123.9 429.2,123.9 430,123.9 430.7,123.9 431.5,123.9 432.3,123.9 433.1,123.9 433.9,123.9 434.6,123.9 435.4,123.9 436.2,123.9 437,123.9 437.7,123.9 438.5,123.9 439.3,123.9 440.1,123.9 440.8,126.9 441.6,126.9 442.4,126.9 443.2,126.9 444,126.9 444.7,126.9 445.5,126.9 446.3,126.9 447.1,126.9 447.8,126.9 448.6,126.9 449.4,126.9 450.2,126.9 451,126.9 451.7,126.9 452.5,126.9 453.3,126.9 454.1,126.9 454.8,126.9 455.6,126.9 456.4,126.9 457.2,126.9 458,126.9 458.7,126.9 459.5,126.9 460.3,126.9 461.1,126.9 461.8,126.9 462.6,126.9 463.4,126.9 464.2,126.9 464.9,126.9 465.7,126.9 466.5,126.9 467.3,126.9 468.1,126.9 468.8,126.9 469.6,126.9 470.4,126.9 471.2,126.9 471.9,126.9 472.7,126.9 473.5,126.9 474.3,126.9 475.1,126.9 475.8,126.9 476.6,126.9 477.4,126.9 478.2,129.9 478.9,129.9 479.7,129.9 480.5,129.9 481.3,129.9 482,129.9 482.8,129.9 483.6,129.9 484.4,129.9 485.2,129.9 485.9,129.9 486.7,129.9 487.5,129.9 488.3,129.9 489,129.9 489.8,129.9 490.6,129.9 491.4,129.9 492.2,129.9 492.9,129.9 493.7,129.9 494.5,129.9 495.3,129.9 496,129.9 496.8,129.9 497.6,129.9 498.4,129.9 499.1,129.9 499.9,129.9 500.7,129.9 501.5,129.9 502.3,129.9 503,129.9 503.8,129.9 504.6,129.9 505.4,132.9 506.1,132.9 506.9,132.9 507.7,132.9 508.5,132.9 509.3,132.9 510,132.9 510.8,132.9 511.6,132.9 512.4,132.9 513.1,132.9 513.9,132.9 514.7,132.9 515.5,132.9 516.2,132.9 517,132.9 517.8,132.9 518.6,132.9 519.4,132.9 520.1,132.9 520.9,132.9 521.7,132.9 522.5,132.9 523.2,132.9 524,132.9 524.8,132.9 525.6,132.9 526.4,132.9 527.1,135.9 527.9,135.9 528.7,135.9 529.5,135.9 530.2,135.9 531,135.9 531.8,135.9 532.6,135.9 533.3,135.9 534.1,135.9 534.9,135.9 535.7,135.9 536.5,135.9 537.2,135.9 538,135.9 538.8,135.9 539.6,135.9 540.3,135.9 541.1,135.9 541.9,135.9 542.7,135.9 543.5,135.9 544.2,138.9 545,138.9 545.8,138.9 546.6,138.9 547.3,138.9 548.1,138.9 548.9,138.9 549.7,138.9 550.4,138.9 551.2,138.9 552,138.9 552.8,138.9 553.6,138.9 554.3,138.9 555.1,138.9 555.9,138.9 556.7,138.9 557.4,138.9 558.2,141.9 559,141.9 559.8,141.9 560.6,141.9 561.3,141.9 562.1,141.9 562.9,141.9 563.7,141.9 564.4,141.9 565.2,141.9 566,141.9 566.8,141.9 567.5,141.9 568.3,141.9 569.1,141.9 569.9,141.9 570.7,144.9 571.4,144.9 572.2,144.9 573,144.9 573.8,144.9 574.5,144.9 575.3,144.9 576.1,144.9 576.9,144.9 577.7,144.9 578.4,144.9 579.2,144.9 580,144.9 580.8,147.9 581.5,147.9 582.3,147.9 583.1,147.9 583.9,147.9 584.6,147.9 585.4,147.9 586.2,147.9 587,147.9 587.8,147.9 588.5,147.9 589.3,147.9 590.1,150.9 590.9,150.9 591.6,150.9 592.4,150.9 593.2,150.9 594,150.9 594.8,150.9 595.5,150.9 596.3,150.9 597.1,150.9 597.9,153.9 598.6,153.9 599.4,153.9 600.2,153.9 601,153.9 601.8,153.9 602.5,153.9 603.3,154 604.1,154 604.9,156.8 605.6,156.8 606.4,156.8 607.2,156.9 608,156.9 608.7,157 609.5,157 610.3,157.1 611.1,159.7 611.9,159.7 612.6,159.8 613.4,159.9 614.2,159.9 615,160 615.7,160.1 616.5,160.2 617.3,162.6 618.1,162.7 618.9,162.8 619.6,162.9 620.4,163.1 621.2,163.2 622,165.4 622.7,165.6 623.5,165.7 624.3,165.9 625.1,166.1 625.8,166.3 626.6,166.5 627.4,168.4 628.2,168.7 629,168.9 629.7,169.1 630.5,169.4 631.3,171.2 632.1,171.4 632.8,171.7 633.6,172 634.4,172.4 635.2,172.8 636,174.3 636.7,174.7 637.5,175.1 638.3,175.5 639.1,175.9 639.8,177.3 640.6,177.7 641.4,178.2 642.2,178.8 642.9,179.9 643.7,180.5 644.5,181 645.3,181.7 646.1,182.7 646.8,183.3 647.6,184 648.4,184.7 649.2,185.5 649.9,186.3 650.7,187.1 651.5,187.9 652.3,188.7 653.1,189.6 653.8,190.4 654.6,191.3 655.4,192.1 656.2,193 656.9,193.9 657.7,194.8 658.5,195.8 659.3,196.7 660,197.7 660.8,198.7 661.6,199.7 662.4,200.7 663.2,201.7 663.9,202.8 664.7,203.9 665.5,204.9 666.3,206.1 667,207.2 667.8,208.3 668.6,209.5 669.4,210.7 670.2,211.9 670.9,213.1 671.7,214.4 672.5,215.7 673.3,217 674,218.3 674.8,219.7 675.6,221 676.4,222.4 677.1,223.9 677.9,225.3 678.7,226.8 679.5,228.3 680.3,229.9 681,231.5 681.8,233.1 682.6,234.7 683.4,236.4 684.1,238.1 684.9,239.8 685.7,241.6 686.5,243.4 687.3,245.2 688,247.1 688.8,249 689.6,251 690.4,253 691.1,255 691.9,257.1 692.7,259.2 693.5,261.4 694.2,263.6 695,265.9 695.8,268.2 696.6,270.5 697.4,273 698.1,275.4 698.9,277.9 699.7,280.5 700.5,283.1 701.2,285.8 702,288.6 702.8,291.4 703.6,294.3 704.4,297.2 705.1,300.2 705.9,303.3 706.7,306.4 707.5,309.6 708.2,312.9 709,316.3 709.8,319.7 710.6,323.3 711.3,326.9 712.1,330.6 712.9,334.3 713.7,338.2 714.5,342.2 715.2,346.2 716,350.4 716.8,354.6 717.6,359 718.3,363.5 719.1,368 719.9,372.7 720.7,377.5 721.5,382.4 722.2,387.5 723,392.6 723.8,397.9 724.6,403.3 725.3,408.9 726.1,414.6 726.9,420.4 727.7,426.4 728.5,432.6 729.2,438.8 730,445.3 730.8,451.9 731.6,458.7 732.3,465.6 733.1,472.7 733.9,480 734.7,487.5 735.4,495.1 736.2,503 737,511 737.8,519.3 738.6,527.7 739.3,536.4 740.1,545.2 740.9,554.3 741.7,563.6 742.4,573.1 743.2,582.8 744,592.7 744.8,602.9 745.6,613.3 746.3,623.9 747.1,634.8 747.9,645.8 748.7,657.1 749.4,668.7 750.2,680.4 751,692.4 751.8,704.6 752.5,716.9 753.3,729.5 754.1,742.3 754.9,755.3 755.7,768.4 756.4,781.7 757.2,795.1 758,808.6 758.8,822.2 759.5,835.9 760.3,849.6 761.1,863.4 761.9,877.1 762.7,890.8 763.4,904.3 764.2,917.8 765,931 765.8,944 766.5,956.8 767.3,969.2 768.1,981.1 768.9,992.7 769.6,1003.7 770.4,1014.1 771.2,1023.9 772,1033 772.8,1041.3 773.5,1048.8 774.3,1055.5 775.1,1061.2 775.9,1065.9 776.6,1069.7 777.4,1072.4 778.2,1074.1 779,1074.9 779.8,1074.2 780.5,1072.6 781.3,1070 782.1,1066.4 782.9,1061.7 783.6,1056.1 784.4,1049.6 785.2,1042.2 786,1033.9 786.7,1024.9 787.5,1015.2 788.3,1004.8 789.1,993.9 789.9,982.4 790.6,970.4 791.4,958.1 792.2,945.4 793,932.4 793.7,919.2 794.5,905.8 795.3,892.2 796.1,878.6 796.9,864.8 797.6,851.1 798.4,837.4 799.2,823.7 800,810.1 800.7,796.5 801.5,783.1 802.3,769.8 803.1,756.7 803.8,743.7 804.6,730.9 805.4,718.3 806.2,705.9 807,693.7 807.7,681.7 808.5,670 809.3,658.4 810.1,647.1 810.8,636 811.6,625.2 812.4,614.5 813.2,604.1 814,593.9 814.7,584 815.5,574.2 816.3,564.7 817.1,555.4 817.8,546.3 818.6,537.4 819.4,528.8 820.2,520.3 820.9,512.1 821.7,504 822.5,496.2 823.3,488.5 824.1,481 824.8,473.7 825.6,466.6 826.4,459.6 827.2,452.8 827.9,446.2 828.7,439.7 829.5,433.4 830.3,427.3 831.1,421.3 831.8,415.5 832.6,409.7 833.4,404.2 834.2,398.7 834.9,393.4 835.7,388.3 836.5,383.2 837.3,378.2 838,373.4 838.8,368.6 839.6,364 840.4,359.4 841.2,355 841.9,350.6 842.7,346.4 843.5,342.2 844.3,338.1 845,334.1 845.8,330.2 846.6,326.4 847.4,322.6 848.2,319 848.9,315.4 849.7,311.9 850.5,308.5 851.3,305.1 852,301.9 852.8,298.7 853.6,295.6 854.4,292.5 855.2,289.6 855.9,286.6 856.7,283.8 857.5,281 858.3,278.2 859,275.6 859.8,272.9 860.6,270.3 861.4,267.8 862.1,265.3 862.9,262.9 863.7,260.5 864.5,258.1 865.3,255.9 866,253.6 866.8,251.4 867.6,249.2 868.4,247.1 869.1,245.1 869.9,243 870.7,241.1 871.5,239.1 872.3,237.2 873,235.4 873.8,233.6 874.6,231.8 875.4,230.1 876.1,228.4 876.9,226.7 877.7,225.1 878.5,223.5 879.2,222 880,220.5 880.8,219.1 881.6,217.6 882.4,216.2 883.1,214.9 883.9,213.5 884.7,212.2 885.5,210.9 886.2,209.6 887,208.3 887.8,207.1 888.6,205.9 889.4,204.7 890.1,203.5 890.9,202.4 891.7,201.3 892.5,200.2 893.2,199.1 894,198 894.8,196.9 895.6,195.9 896.3,194.9 897.1,193.9 897.9,192.9 898.7,192 899.5,191 900.2,190.1 901,189.2 901.8,188.3 902.6,187.4 903.3,186.5 904.1,185.6 904.9,184.8 905.7,184 906.5,183.1 907.2,182.3 908,181.6 908.8,180.8 909.6,180 910.3,179.2 911.1,178.5 911.9,177.8 912.7,177.2 913.4,176.1 914.2,175.5 915,175 915.8,174.4 916.6,173.9 917.3,172.7 918.1,172.2 918.9,171.8 919.7,171.3 920.4,171 921.2,169.5 922,169.1 922.8,168.8 923.6,168.5 924.3,168.2 925.1,166.4 925.9,166.2 926.7,165.9 927.4,165.7 928.2,165.5 929,165.3 929.8,163.3 930.5,163.1 931.3,162.9 932.1,162.8 932.9,162.7 933.7,162.6 934.4,160.2 935.2,160.1 936,160 936.8,159.9 937.5,159.9 938.3,159.8 939.1,159.7 939.9,159.7 940.7,157 941.4,157 942.2,156.9 943,156.9 943.8,156.9 944.5,156.9 945.3,156.9 946.1,156.9 946.9,153.9 947.6,153.9 948.4,153.9 949.2,153.9 950,153.9 950.8,153.9 951.5,153.9 952.3,153.9 953.1,153.9 953.9,153.9 954.6,150.9 955.4,150.9 956.2,150.9 957,150.9 957.8,150.9 958.5,150.9 959.3,150.9 960.1,150.9 960.9,150.9 961.6,150.9 962.4,150.9 963.2,147.9 964,147.9 964.7,147.9 965.5,147.9 966.3,147.9 967.1,147.9 967.9,147.9 968.6,147.9 969.4,147.9 970.2,147.9 971,147.9 971.7,147.9 972.5,147.9 973.3,144.9 974.1,144.9 974.9,144.9 975.6,144.9 976.4,144.9 977.2,144.9 978,144.9 978.7,144.9 979.5,144.9 980.3,144.9 981.1,144.9 981.9,144.9 982.6,144.9 983.4,144.9 984.2,144.9 985,141.9 985.7,141.9 986.5,141.9 987.3,141.9 988.1,141.9 988.8,141.9 989.6,141.9 990.4,141.9 991.2,141.9 992,141.9 992.7,141.9 993.5,141.9 994.3,141.9 995.1,141.9 995.8,141.9 996.6,141.9 997.4,141.9 998.2,138.9 999,138.9 999.7,138.9 1000.5,138.9 1001.3,138.9 1002.1,138.9 1002.8,138.9 1003.6,138.9 1004.4,138.9 1005.2,138.9 1005.9,138.9 1006.7,138.9 1007.5,138.9 1008.3,138.9 1009.1,138.9 1009.8,138.9 1010.6,138.9 1011.4,138.9 1012.2,138.9 1012.9,138.9 1013.7,135.9 1014.5,135.9 1015.3,135.9 1016.1,135.9 1016.8,135.9 1017.6,135.9 1018.4,135.9 1019.2,135.9 1019.9,135.9 1020.7,135.9 1021.5,135.9 1022.3,135.9 1023,135.9 1023.8,135.9 1024.6,135.9 1025.4,135.9 1026.2,135.9 1026.9,135.9 1027.7,135.9 1028.5,135.9 1029.3,135.9 1030,135.9 1030.8,135.9 1031.6,135.9 1032.4,135.9 1033.2,132.9 1033.9,132.9 1034.7,132.9 1035.5,132.9 1036.3,132.9 1037,132.9 1037.8,132.9 1038.6,132.9 1039.4,132.9 1040.1,132.9 1040.9,132.9 1041.7,132.9 1042.5,132.9 1043.3,132.9 1044,132.9 1044.8,132.9 1045.6,132.9 1046.4,132.9 1047.1,132.9 1047.9,132.9 1048.7,132.9 1049.5,132.9 1050.3,132.9 1051,132.9 1051.8,132.9 1052.6,132.9 1053.4,132.9 1054.1,132.9 1054.9,132.9 1055.7,132.9 1056.5,132.9 1057.2,132.9 1058,132.9 1058.8,129.9 1059.6,129.9 1060.4,129.9 1061.1,129.9 1061.9,129.9 1062.7,129.9 1063.5,129.9 1064.2,129.9 1065,129.9 1065.8,129.9 1066.6,129.9 1067.4,129.9 1068.1,129.9 1068.9,129.9 1069.7,129.9 1070.5,129.9 1071.2,129.9 1072,129.9 1072.8,129.9 1073.6,129.9 1074.3,129.9 1075.1,129.9 1075.9,129.9 1076.7,129.9 1077.5,129.9 1078.2,129.9 1079,129.9 1079.8,129.9 1080.6,129.9 1081.3,129.9 1082.1,129.9 1082.9,129.9 1083.7,129.9 1084.5,129.9 1085.2,129.9 1086,129.9 1086.8,129.9 1087.6,129.9 1088.3,129.9 1089.1,129.9 1089.9,129.9 1090.7,129.9 1091.4,129.9 1092.2,129.9 1093,129.9 1093.8,129.9 1094.6,129.9 1095.3,126.9 1096.1,126.9 1096.9,126.9 1097.7,126.9 1098.4,126.9 1099.2,126.9 1100,126.9 1100.8,126.9 1101.6,126.9 1102.3,126.9 1103.1,126.9 1103.9,126.9 1104.7,126.9 1105.4,126.9 1106.2,126.9 1107,126.9 1107.8,126.9 1108.6,126.9 1109.3,126.9 1110.1,126.9 1110.9,126.9 1111.7,126.9 1112.4,126.9 1113.2,126.9 1114,126.9 1114.8,126.9 1115.5,126.9 1116.3,126.9 1117.1,126.9 1117.9,126.9 1118.7,126.9 1119.4,126.9 1120.2,126.9 1121,126.9 1121.8,126.9 1122.5,126.9 1123.3,126.9 1124.1,126.9 1124.9,126.9 1125.7,126.9 1126.4,126.9 1127.2,126.9 1128,126.9 1128.8,126.9 1129.5,126.9 1130.3,126.9 1131.1,126.9 1131.9,126.9 1132.6,126.9 1133.4,126.9 1134.2,126.9 1135,126.9 1135.8,126.9 1136.5,126.9 1137.3,126.9 1138.1,126.9 1138.9,126.9 1139.6,126.9 1140.4,126.9 1141.2,126.9 1142,126.9 1142.8,126.9 1143.5,126.9 1144.3,126.9 1145.1,126.9 1145.9,126.9 1146.6,126.9 1147.4,126.9 1148.2,126.9 1149,126.9 1149.7,126.9 1150.5,126.9 1151.3,126.9 1152.1,126.9 1152.9,126.9 1153.6,126.9 1154.4,126.9 1155.2,126.9 1156,123.9 1156.7,123.9 1157.5,123.9 1158.3,123.9 1159.1,123.9 1159.9,123.9 1160.6,123.9 1161.4,123.9 1162.2,123.9 1163,123.9 1163.7,123.9 1164.5,123.9 1165.3,123.9 1166.1,123.9 1166.8,123.9 1167.6,123.9 1168.4,123.9 1169.2,123.9 1170,123.9 1170.7,123.9 1171.5,123.9 1172.3,123.9 1173.1,123.9 1173.8,123.9 1174.6,123.9 1175.4,123.9 1176.2,123.9 1177,123.9 1177.7,123.9 1178.5,123.9 1179.3,123.9 1180.1,123.9 1180.8,123.9 1181.6,123.9 1182.4,123.9 1183.2,123.9 1183.9,123.9 1184.7,123.9 1185.5,123.9 1186.3,123.9 1187.1,123.9 1187.8,123.9 1188.6,123.9 1189.4,123.9 1190.2,123.9 1190.9,123.9 1191.7,123.9 1192.5,123.9 1193.3,123.9 1194.1,123.9 1194.8,123.9 1195.6,123.9 1196.4,123.9 1197.2,123.9 1197.9,123.9 1198.7,123.9 1199.5,123.9 1200.3,123.9 1201,123.9 1201.8,123.9 1202.6,123.9 1203.4,123.9 1204.2,123.9 1204.9,123.9 1205.7,123.9 1206.5,123.9 1207.3,123.9 1208,123.9 1208.8,123.9 1209.6,123.9 1210.4,123.9 1211.2,123.9 1211.9,123.9 1212.7,123.9 1213.5,123.9 1214.3,123.9 1215,123.9 1215.8,123.9 1216.6,123.9 1217.4,123.9 1218.1,123.9 1218.9,123.9 1219.7,123.9 1220.5,123.9 1221.3,123.9 1222,123.9 1222.8,123.9 1223.6,123.9 1224.4,123.9 1225.1,123.9 1225.9,123.9 1226.7,123.9 1227.5,123.9 1228.3,123.9 1229,123.9 1229.8,123.9 1230.6,123.9 1231.4,123.9 1232.1,123.9 1232.9,123.9 1233.7,123.9 1234.5,123.9 1235.3,123.9 1236,123.9 1236.8,123.9 1237.6,123.9 1238.4,123.9 1239.1,123.9 1239.9,123.9 1240.7,123.9 1241.5,123.9 1242.2,123.9 1243,123.9 1243.8,123.9 1244.6,123.9 1245.4,123.9 1246.1,123.9 1246.9,123.9 1247.7,123.9 1248.5,123.9 1249.2,123.9 1250,123.9 1250.8,123.9 1251.6,123.9 1252.4,123.9 1253.1,123.9 1253.9,123.9 1254.7,123.9 1255.5,123.9 1256.2,123.9 1257,123.9 1257.8,123.9 1258.6,123.9 1259.3,123.9 1260.1,123.9 1260.9,123.9 1261.7,123.9 1262.5,123.9 1263.2,123.9 1264,123.9 1264.8,123.9 1265.6,123.9 1266.3,123.9 1267.1,123.9 1267.9,123.9 1268.7,123.9 1269.5,123.9 1270.2,123.9 1271,123.9 1271.8,123.9 1272.6,123.9 1273.3,123.9 1274.1,123.9 1274.9,123.9 1275.7,123.9 1276.4,123.9 1277.2,123.9 1278,123.9 1278.8,123.9 1279.6,123.9 1280.3,123.9 1281.1,123.9 1281.9,123.9 1282.7,123.9 1283.4,123.9 1284.2,123.9 1285,123.9 1285.8,123.9 1286.6,123.9 1287.3,123.9 1288.1,123.9 1288.9,123.9 1289.7,123.9 1290.4,123.9 1291.2,123.9 1292,120.9 1292.8,120.9 1293.5,120.9 1294.3,120.9 1295.1,120.9 1295.9,120.9 1296.7,120.9 1297.4,120.9 1298.2,120.9 1299,120.9 1299.8,120.9 1300.5,120.9 1301.3,120.9 1302.1,120.9 1302.9,120.9 1303.7,120.9 1304.4,120.9 1305.2,120.9 1306,120.9 1306.8,120.9 1307.5,120.9 1308.3,120.9 1309.1,120.9 1309.9,120.9 1310.6,120.9 1311.4,120.9 1312.2,120.9 1313,120.9 1313.8,120.9 1314.5,120.9 1315.3,120.9 1316.1,120.9 1316.9,120.9 1317.6,120.9 1318.4,120.9 1319.2,120.9 1320,120.9 1320.8,120.9 1321.5,120.9 1322.3,120.9 1323.1,120.9 1323.9,120.9 1324.6,120.9 1325.4,120.9 1326.2,120.9 1327,120.9 1327.7,120.9 1328.5,120.9 1329.3,120.9 1330.1,120.9 1330.9,120.9 1331.6,120.9 1332.4,120.9 1333.2,120.9 1334,120.9 1334.7,120.9 1335.5,120.9 1336.3,120.9 1337.1,120.9 1337.9,120.9 1338.6,120.9 1339.4,120.9 1340.2,120.9 1341,120.9 1341.7,120.9 1342.5,120.9 1343.3,120.9 1344.1,120.9 1344.8,120.9 1345.6,120.9 1346.4,120.9 1347.2,120.9 1348,120.9 1348.7,120.9 1349.5,120.9 1350.3,120.9 1351.1,120.9 1351.8,120.9 1352.6,120.9 1353.4,120.9 1354.2,120.9 1355,120.9 1355.7,120.9 1356.5,120.9 1357.3,120.9 1358.1,120.9 1358.8,120.9 1359.6,120.9 1360.4,120.9 1361.2,120.9 1362,120.9 1362.7,120.9 1363.5,120.9 1364.3,120.9 1365.1,120.9 1365.8,120.9 1366.6,120.9 1367.4,120.9 1368.2,120.9 1368.9,120.9 1369.7,120.9 1370.5,120.9 1371.3,120.9 1372.1,120.9 1372.8,120.9 1373.6,120.9 1374.4,120.9 1375.2,120.9 1375.9,120.9 1376.7,120.9 1377.5,120.9 1378.3,120.9 1379.1,120.9 1379.8,120.9 1380.6,120.9 1381.4,120.9 1382.2,120.9 1382.9,120.9 1383.7,120.9 1384.5,120.9 1385.3,120.9 1386,120.9 1386.8,120.9 1387.6,120.9 1388.4,120.9 1389.2,120.9 1389.9,120.9 1390.7,120.9 1391.5,120.9 1392.3,120.9 1393,120.9 1393.8,120.9 1394.6,120.9 1395.4,120.9 1396.2,120.9 1396.9,120.9 1397.7,120.9 1398.5,120.9 1399.3,120.9 1400,120.9 1400.8,120.9 1401.6,120.9 1402.4,120.9 1403.1,120.9 1403.9,120.9 1404.7,120.9 1405.5,120.9 1406.3,120.9 1407,120.9 1407.8,120.9 1408.6,120.9 1409.4,120.9 1410.1,120.9 1410.9,120.9 1411.7,120.9 1412.5,120.9 1413.3,120.9 1414,120.9 1414.8,120.9 1415.6,120.9 1416.4,120.9 1417.1,120.9 1417.9,120.9 1418.7,120.9 1419.5,120.9 1420.2,120.9 1421,120.9 1421.8,120.9 1422.6,120.9 1423.4,120.9 1424.1,120.9 1424.9,120.9 1425.7,120.9 1426.5,120.9 1427.2,120.9 1428,120.9 1428.8,120.9 1429.6,120.9 1430.4,120.9 1431.1,120.9 1431.9,120.9 1432.7,120.9 1433.5,120.9 1434.2,120.9 1435,120.9 1435.8,120.9 1436.6,120.9 1437.3,120.9 1438.1,120.9 1438.9,120.9 1439.7,120.9 1440.5,120.9 1441.2,120.9 1442,120.9 1442.8,120.9 1443.6,120.9 1444.3,120.9 1445.1,120.9 1445.9,120.9 1446.7,120.9 1447.5,120.9 1448.2,120.9 1449,120.9 1449.8,120.9 1450.6,120.9 1451.3,120.9 1452.1,120.9 1452.9,120.9 1453.7,120.9 1454.4,120.9 1455.2,120.9 1456,120.9 1456.8,120.9 1457.6,120.9 1458.3,120.9 1459.1,120.9 1459.9,120.9 1460.7,120.9 1461.4,120.9 1462.2,120.9 1463,120.9 1463.8,120.9 1464.6,120.9 1465.3,120.9 1466.1,120.9 1466.9,120.9 1467.7,120.9 1468.4,120.9 1469.2,120.9 1470,120.9 1470.8,120.9 1471.5,120.9 1472.3,120.9 1473.1,120.9 1473.9,120.9 1474.7,120.9 1475.4,120.9 1476.2,120.9 1477,120.9 1477.8,120.9 1478.5,120.9 1479.3,120.9 1480.1,120.9 1480.9,120.9 1481.7,120.9 1482.4,120.9 1483.2,120.9 1484,120.9 1484.8,120.9 1485.5,120.9 1486.3,120.9 1487.1,120.9 1487.9,120.9 1488.6,120.9 1489.4,120.9 1490.2,120.9 1491,120.9 1491.8,120.9 1492.5,120.9 1493.3,120.9 1494.1,120.9 1494.9,120.9 1495.6,120.9 1496.4,120.9 1497.2,120.9 1498,120.9 1498.8,120.9 1499.5,120.9 1500.3,120.9 1501.1,120.9 1501.9,120.9 1502.6,120.9 1503.4,120.9 1504.2,120.9 1505,120.9 1505.8,120.9 1506.5,120.9 1507.3,120.9 1508.1,120.9 1508.9,120.9 1509.6,120.9 1510.4,120.9 1511.2,120.9 1512,120.9 1512.7,120.9 1513.5,120.9 1514.3,120.9 1515.1,120.9 1515.9,120.9 1516.6,120.9 1517.4,120.9 1518.2,120.9 1519,120.9 1519.7,120.9 1520.5,120.9 1521.3,120.9 1522.1,120.9 1522.9,120.9 1523.6,120.9 1524.4,120.9 1525.2,120.9 1526,120.9 1526.7,120.9 1527.5,120.9 1528.3,120.9 1529.1,120.9 1529.8,120.9 1530.6,120.9 1531.4,120.9 1532.2,120.9 1533,120.9 1533.7,120.9 1534.5,120.9 1535.3,120.9 1536.1,120.9 1536.8,120.9 1537.6,120.9 1538.4,120.9 1539.2,120.9 1540,120.9 1540.7,120.9 1541.5,120.9 1542.3,120.9 1543.1,120.9 1543.8,120.9 1544.6,120.9 1545.4,120.9 1546.2,120.9 1546.9,120.9 1547.7,120.9 1548.5,120.9 1549.3,120.9 1550.1,120.9 1550.8,120.9 1551.6,120.9 1552.4,120.9 1553.2,120.9 1553.9,120.9 1554.7,120.9 1555.5,120.9 1556.3,120.9 1557.1,120.9 1557.8,120.9 1558.6,120.9 1559.4,120.9 1560.2,120.9 1560.9,120.9 1561.7,120.9 1562.5,120.9 1563.3,120.9 1564,120.9 1564.8,120.9 1565.6,120.9 1566.4,120.9 1567.2,120.9 1567.9,120.9 1568.7,120.9 1569.5,120.9 1570.3,120.9 1571,120.9 1571.8,120.9 1572.6,120.9 1573.4,120.9 1574.2,120.9 1574.9,120.9 1575.7,120.9 1576.5,120.9 1577.3,120.9 1578,120.9 1578.8,120.9 1579.6,120.9 1580.4,120.9 1581.1,120.9 1581.9,120.9 1582.7,120.9 1583.5,120.9 1584.3,120.9 1585,120.9 1585.8,120.9 1586.6,120.9 1587.4,120.9 1588.1,120.9 1588.9,120.9 1589.7,120.9 1590.5,120.9 1591.3,120.9 1592,120.9 1592.8,120.9 1593.6,120.9 1594.4,120.9 1595.1,120.9 1595.9,120.9 1596.7,120.9 1597.5,120.9 1598.2,120.9 1599,120.9 1599.8,120.9 1600.6,120.9 1601.4,120.9 1602.1,120.9 1602.9,120.9 1603.7,120.9 1604.5,120.9 1605.2,120.9 1606,120.9 1606.8,120.9 1607.6,120.9 1608.4,120.9 1609.1,120.9 1609.9,120.9 1610.7,120.9 1611.5,120.9 1612.2,120.9 1613,120.9 1613.8,120.9 1614.6,120.9 1615.3,120.9 1616.1,120.9 1616.9,120.9 1617.7,120.9 1618.5,120.9 1619.2,120.9 1620,120.9 1620.8,120.9 1621.6,120.9 1622.3,120.9 1623.1,120.9 1623.9,120.9 1624.7,120.9 1625.5,120.9 1626.2,120.9 1627,120.9 1627.8,120.9 1628.6,120.9 1629.3,120.9 1630.1,120.9 1630.9,120.9 1631.7,120.9 1632.5,120.9 1633.2,120.9 1634,120.9 1634.8,120.9 1635.6,120.9 1636.3,120.9 1637.1,120.9 1637.9,120.9 1638.7,120.9 1639.4,120.9 1640.2,120.9 1641,120.9 1641.8,120.9 1642.6,120.9 1643.3,120.9 1644.1,120.9 1644.9,120.9 1645.7,120.9 1646.4,120.9 1647.2,120.9 1648,120.9 1648.8,120.9 1649.6,120.9 1650.3,120.9 1651.1,120.9 1651.9,120.9 1652.7,120.9 1653.4,120.9 1654.2,120.9 1655,120.9 1655.8,120.9 1656.5,120.9 1657.3,120.9 1658.1,120.9 1658.9,120.9 1659.7,120.9 1660.4,120.9 1661.2,120.9 1662,120.9 1662.8,120.9 1663.5,120.9 1664.3,120.9 1665.1,120.9 1665.9,120.9 1666.7,120.9 1667.4,120.9 1668.2,120.9 1669,120.9 1669.8,120.9 1670.5,120.9 1671.3,120.9 1672.1,120.9 1672.9,120.9 1673.6,120.9 1674.4,120.9 1675.2,120.9 1676,120.9 1676.8,120.9 1677.5,120.9 1678.3,120.9 1679.1,120.9 1679.9,120.9 1680.6,120.9 1681.4,120.9 1682.2,120.9 1683,120.9 1683.8,120.9 1684.5,120.9 1685.3,120.9 1686.1,120.9 1686.9,120.9 1687.6,120.9 1688.4,120.9 1689.2,120.9 1690,120.9 1690.7,120.9 1691.5,120.9 1692.3,120.9 1693.1,120.9 1693.9,120.9 1694.6,120.9 1695.4,120.9 1696.2,120.9 1697,120.9 1697.7,120.9 1698.5,120.9 1699.3,120.9 1700.1,120.9 1700.9,120.9 1701.6,120.9 1702.4,120.9 1703.2,120.9 1704,120.9 1704.7,120.9 1705.5,120.9 1706.3,120.9 1707.1,120.9 1707.8,120.9 1708.6,120.9 1709.4,120.9 1710.2,120.9 1711,120.9 1711.7,120.9 1712.5,120.9 1713.3,120.9 1714.1,120.9 1714.8,120.9 1715.6,120.9 1716.4,120.9 1717.2,120.9 1718,120.9 1718.7,120.9 1719.5,120.9 1720.3,120.9 1721.1,120.9 1721.8,120.9 1722.6,120.9 1723.4,120.9 1724.2,120.9 1724.9,120.9 1725.7,120.9 1726.5,120.9 1727.3,120.9 1728.1,120.9 1728.8,120.9 1729.6,120.9 1730.4,120.9 1731.2,120.9 1731.9,120.9 1732.7,120.9 1733.5,120.9 1734.3,120.9 1735.1,120.9 1735.8,120.9 1736.6,120.9 1737.4,120.9 1738.2,120.9 1738.9,120.9 1739.7,120.9 1740.5,120.9 1741.3,120.9 1742,120.9 1742.8,120.9 1743.6,120.9 1744.4,120.9 1745.2,120.9 1745.9,120.9 1746.7,120.9 1747.5,120.9 1748.3,120.9 1749,120.9 1749.8,120.9 1750.6,120.9"/>
<g stroke-linecap="butt" fill="none">
<path stroke="#3f3f3f" stroke-width="3.4" d="M202.4,150.0V336.0"/>
<path stroke="#3f3f3f" stroke-width="5.6" d="M198.9,31.2V1204.3"/>
<path stroke="#3f3f3f" stroke-width="5.0" d="M198.9,33.7h-25.9M198.9,150.5h-14.0M198.9,267.3h-25.9M198.9,384.1h-14.0M198.9,500.9h-25.9M198.9,617.8h-14.0M198.9,734.6h-25.9M198.9,851.4h-14.0M198.9,968.2h-25.9M198.9,1085.0h-14.0M198.9,1201.8h-25.9"/>
<path stroke="#000" stroke-width="5.6" d="M200.9,33.7H1748.4M200.9,1201.8H1748.4"/>
<path stroke="#000" stroke-width="6.2" d="M198.9,36.3v8.8M198.9,1204.4v7.8M352.6,33.7v22.6M352.6,1201.8v19.8M509.0,33.7v11.4M509.0,1201.8v10.4M663.0,33.7v22.6M663.0,1201.8v19.8M819.4,33.7v11.4M819.4,1201.8v10.4M973.4,33.7v22.6M973.4,1201.8v19.8M1129.8,33.7v11.4M1129.8,1201.8v10.4M1283.7,33.7v22.6M1283.7,1201.8v19.8M1440.1,33.7v11.4M1440.1,1201.8v10.4M1594.1,33.7v22.6M1594.1,1201.8v19.8M1750.6,1201.8v10.4"/>
<path stroke="#ee2c2c" stroke-width="5.0" d="M1750.6,30.7V1204.3"/>
<path stroke="#ee2c2c" stroke-width="4.2" d="M1750.6,33.7h11.6M1750.6,96.3h22.8M1750.6,162.0h11.6M1750.6,227.6h22.8M1750.6,293.3h11.6M1750.6,358.8h22.8M1750.6,421.9h11.6M1750.6,487.1h22.8M1750.6,552.1h11.6M1750.6,617.6h22.8M1750.6,680.2h11.6M1750.6,746.4h22.8M1750.6,811.4h11.6M1750.6,877.6h22.8M1750.6,943.1h11.6M1750.6,1008.6h22.8M1750.6,1071.4h11.6M1750.6,1136.4h22.8M1750.6,1201.8h11.6"/>
</g>
<g font-size="61" fill="#2a2a2a">
<text x="136.0" y="49.4" text-anchor="middle">2</text>
<text x="136.0" y="283.0" text-anchor="middle">0</text>
<text y="516.6"><tspan x="86.5" dy="4.7" textLength="35.0" lengthAdjust="spacingAndGlyphs" stroke="#2a2a2a" stroke-width="0.90">−</tspan><tspan x="140.0" dy="-4.7" text-anchor="middle">2</tspan></text>
<text y="750.3"><tspan x="86.5" dy="4.7" textLength="35.0" lengthAdjust="spacingAndGlyphs" stroke="#2a2a2a" stroke-width="0.90">−</tspan><tspan x="140.0" dy="-4.7" text-anchor="middle">4</tspan></text>
<text y="983.9"><tspan x="86.5" dy="4.7" textLength="35.0" lengthAdjust="spacingAndGlyphs" stroke="#2a2a2a" stroke-width="0.90">−</tspan><tspan x="140.0" dy="-4.7" text-anchor="middle">6</tspan></text>
<text y="1217.5"><tspan x="86.5" dy="4.7" textLength="35.0" lengthAdjust="spacingAndGlyphs" stroke="#2a2a2a" stroke-width="0.90">−</tspan><tspan x="140.0" dy="-4.7" text-anchor="middle">8</tspan></text>
<text x="350.2" y="1285.0" text-anchor="middle" textLength="79.0" lengthAdjust="spacing">2.6</text>
<text x="660.6" y="1285.0" text-anchor="middle" textLength="79.0" lengthAdjust="spacing">2.8</text>
<text x="971.0" y="1285.0" text-anchor="middle" textLength="79.0" lengthAdjust="spacing">3.0</text>
<text x="1281.3" y="1285.0" text-anchor="middle" textLength="79.0" lengthAdjust="spacing">3.2</text>
<text x="1591.7" y="1285.0" text-anchor="middle" textLength="79.0" lengthAdjust="spacing">3.4</text>
</g>
<g font-size="61" fill="#ee2c2c">
<text x="1791.0" y="112.7">0</text>
<text y="244.0"><tspan x="1790.6" dy="0.5" textLength="22.5" lengthAdjust="spacingAndGlyphs" stroke="#ee2c2c" stroke-width="1.20">-</tspan><tspan x="1829.6" dy="-0.5" text-anchor="middle">1</tspan></text>
<text y="375.2"><tspan x="1790.6" dy="0.5" textLength="22.5" lengthAdjust="spacingAndGlyphs" stroke="#ee2c2c" stroke-width="1.20">-</tspan><tspan x="1829.6" dy="-0.5" text-anchor="middle">2</tspan></text>
<text y="503.5"><tspan x="1790.6" dy="0.5" textLength="22.5" lengthAdjust="spacingAndGlyphs" stroke="#ee2c2c" stroke-width="1.20">-</tspan><tspan x="1829.6" dy="-0.5" text-anchor="middle">3</tspan></text>
<text y="634.0"><tspan x="1790.6" dy="0.5" textLength="22.5" lengthAdjust="spacingAndGlyphs" stroke="#ee2c2c" stroke-width="1.20">-</tspan><tspan x="1829.6" dy="-0.5" text-anchor="middle">4</tspan></text>
<text y="762.8"><tspan x="1790.6" dy="0.5" textLength="22.5" lengthAdjust="spacingAndGlyphs" stroke="#ee2c2c" stroke-width="1.20">-</tspan><tspan x="1829.6" dy="-0.5" text-anchor="middle">5</tspan></text>
<text y="894.0"><tspan x="1790.6" dy="0.5" textLength="22.5" lengthAdjust="spacingAndGlyphs" stroke="#ee2c2c" stroke-width="1.20">-</tspan><tspan x="1829.6" dy="-0.5" text-anchor="middle">6</tspan></text>
<text y="1025.0"><tspan x="1790.6" dy="0.5" textLength="22.5" lengthAdjust="spacingAndGlyphs" stroke="#ee2c2c" stroke-width="1.20">-</tspan><tspan x="1829.6" dy="-0.5" text-anchor="middle">7</tspan></text>
<text y="1152.8"><tspan x="1790.6" dy="0.5" textLength="22.5" lengthAdjust="spacingAndGlyphs" stroke="#ee2c2c" stroke-width="1.20">-</tspan><tspan x="1829.6" dy="-0.5" text-anchor="middle">8</tspan></text>
</g>
<g font-size="65.5" fill="#111111" stroke="#111111" stroke-width="0.70" stroke-linejoin="round">
<text x="600.6" y="1397.6">Center frequency</text>
<text transform="translate(1068.0,1404.8) scale(0.800,1.045)" class="cjk" font-size="62" stroke-width="1.00">（</text>
<text x="1119.8" y="1397.6">GHz</text>
<text transform="translate(1246.8,1404.8) scale(0.800,1.045)" class="cjk" font-size="62" stroke-width="1.00">）</text>
</g>
<g font-size="65.5" fill="#111111" stroke="#111111" stroke-width="0.70" stroke-linejoin="round">
<text transform="translate(57.8,796.5) rotate(-90)">S11</text>
<text transform="translate(53.6,702.5) rotate(-90) scale(1.130,0.847)" class="cjk" font-size="62" stroke-width="1.00">（</text>
<text transform="translate(57.8,626.0) rotate(-90)" textLength="130.4" lengthAdjust="spacing">dBm</text>
<text transform="translate(53.6,493.6) rotate(-90) scale(1.130,0.847)" class="cjk" font-size="62" stroke-width="1.00">）</text>
</g>
<g font-size="65.5" fill="#0a0a0a" stroke="#0a0a0a" stroke-width="0.70" stroke-linejoin="round">
<text transform="translate(1922.6,796.5) rotate(-90)">S11</text>
<text transform="translate(1919.6,702.5) rotate(-90) scale(1.130,0.847)" class="cjk" font-size="62" stroke-width="1.00">（</text>
<text transform="translate(1922.6,626.0) rotate(-90)" textLength="130.4" lengthAdjust="spacing">dBm</text>
<text transform="translate(1919.6,493.6) rotate(-90) scale(1.130,0.847)" class="cjk" font-size="62" stroke-width="1.00">）</text>
</g>
<rect x="1023.2" y="964.9" width="678.2" height="188.8" fill="#fefefe" stroke="#1c1c1c" stroke-width="3.2"/>
<g font-size="46" font-weight="bold" fill="#0a0a0a">
<text x="1151.2" y="1011.2" textLength="214.5" lengthAdjust="spacingAndGlyphs">Microwave</text>
<text x="1381.7" y="1011.2" textLength="169.6" lengthAdjust="spacingAndGlyphs">antenna:</text>
<text x="1151.8" y="1066.9" textLength="213.9" lengthAdjust="spacingAndGlyphs">Broadband</text>
<text x="1384.3" y="1066.9" textLength="68.7" lengthAdjust="spacingAndGlyphs">and</text>
<text x="1469.7" y="1066.9" textLength="96.0" lengthAdjust="spacingAndGlyphs">large</text>
<text x="1580.0" y="1066.9" textLength="82.4" lengthAdjust="spacingAndGlyphs">area</text>
<text x="1151.8" y="1122.9" textLength="135.5" lengthAdjust="spacingAndGlyphs">Double</text>
<text x="1302.6" y="1122.9" textLength="91.3" lengthAdjust="spacingAndGlyphs">open</text>
<text x="1408.9" y="1122.9" textLength="82.3" lengthAdjust="spacingAndGlyphs">loop</text>
<text x="1505.9" y="1122.9" textLength="166.1" lengthAdjust="spacingAndGlyphs">resonant</text>
</g>
<path d="M1065.5,1053.5H1082.8M1122,1053.5H1140.6" stroke="#0000ff" stroke-width="4.2" fill="none"/>
<polygon points="1088.30,1032.40 1130.50,1051.70 1088.30,1071.00" fill="#0000ff"/>
<path d="M1066.5,1111.5H1083.6M1124.2,1111.5H1142" stroke="#ff0000" stroke-width="4.2" fill="none"/>
<polygon points="1104.30,1081.79 1109.80,1099.90 1127.60,1099.90 1113.20,1111.09 1118.70,1129.21 1104.30,1118.01 1089.90,1129.21 1095.40,1111.09 1081.00,1099.90 1098.80,1099.90" fill="#ff0000"/>
</g>
</svg>
</body>
</html>
